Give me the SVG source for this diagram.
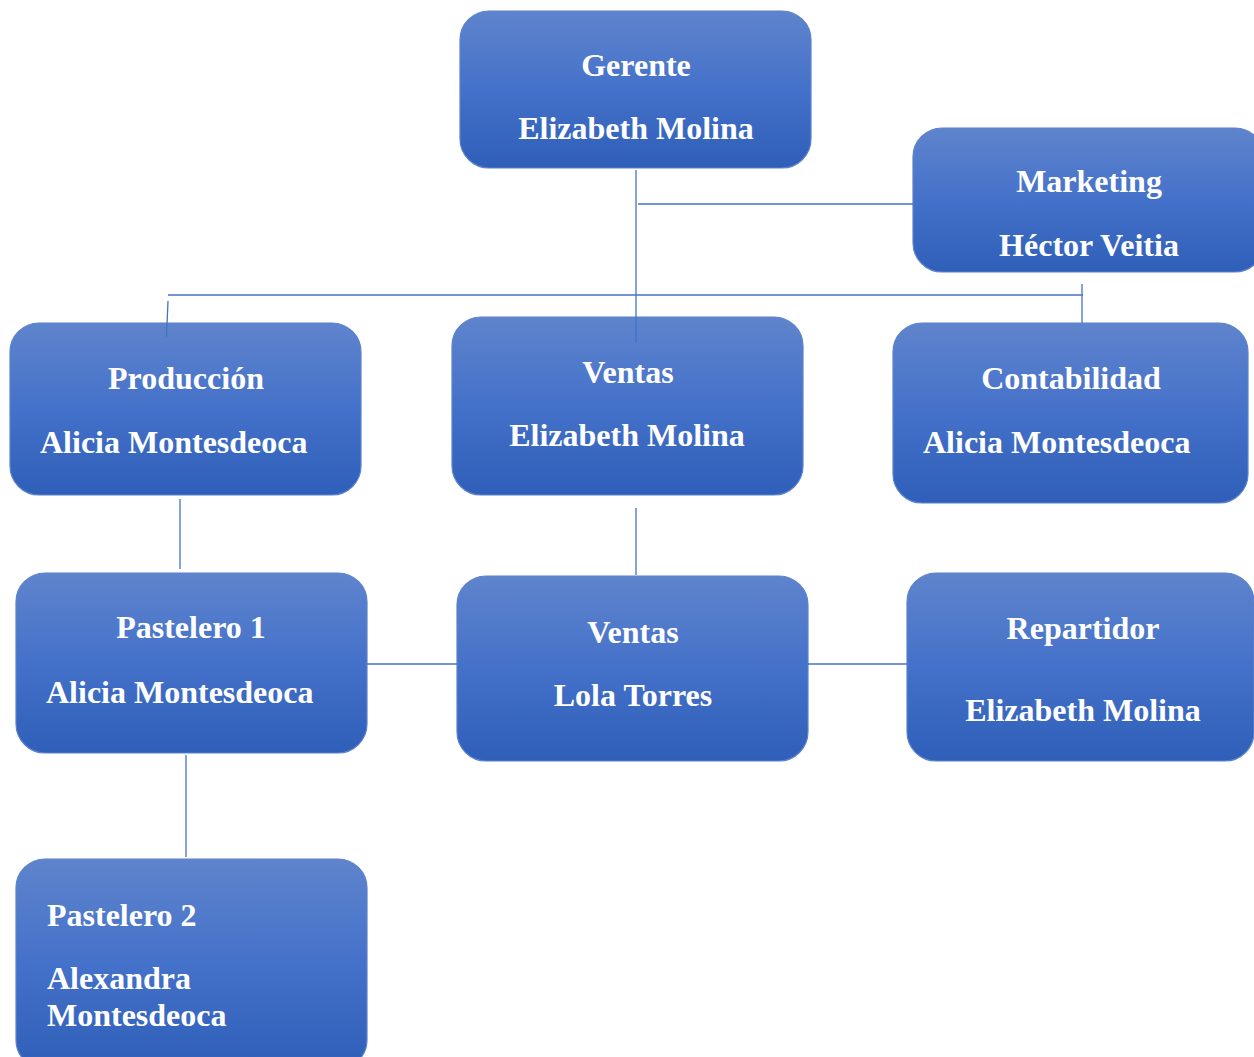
<svg xmlns="http://www.w3.org/2000/svg" width="1254" height="1057" viewBox="0 0 1254 1057">
<defs>
<linearGradient id="g" x1="0" y1="0" x2="0" y2="1">
<stop offset="0" stop-color="#5f84cd"/>
<stop offset="0.5" stop-color="#4471c9"/>
<stop offset="1" stop-color="#2f5fb9"/>
</linearGradient>
<style>
.box{fill:url(#g);stroke:#5b82cc;stroke-width:1.2}
.t{font-family:"Liberation Serif","Times New Roman",serif;font-weight:bold;font-size:32px;fill:#ffffff}
.c{text-anchor:middle}
.ln{stroke:#4472c4;stroke-width:1.3;fill:none}
</style>
</defs>
<rect width="1254" height="1057" fill="#ffffff"/>
<g id="gerente">
<rect class="box" x="460" y="11" width="351" height="157" rx="29"/>
<text class="t c" x="636" y="76">Gerente</text>
<text class="t c" x="636" y="139">Elizabeth Molina</text>
</g>
<g id="marketing">
<rect class="box" x="913" y="128" width="351" height="144" rx="29"/>
<text class="t c" x="1089" y="192">Marketing</text>
<text class="t c" x="1089" y="256">Héctor Veitia</text>
</g>
<g id="produccion">
<rect class="box" x="10" y="323" width="351" height="172" rx="29"/>
<text class="t c" x="186" y="389">Producción</text>
<text class="t" x="40" y="453">Alicia Montesdeoca</text>
</g>
<g id="ventas1">
<rect class="box" x="452" y="317" width="351" height="178" rx="29"/>
<text class="t c" x="628" y="383">Ventas</text>
<text class="t c" x="627" y="446">Elizabeth Molina</text>
</g>
<g id="contabilidad">
<rect class="box" x="893" y="323" width="355" height="180" rx="29"/>
<text class="t c" x="1071" y="389">Contabilidad</text>
<text class="t" x="923" y="453">Alicia Montesdeoca</text>
</g>
<g id="pastelero1">
<rect class="box" x="16" y="573" width="351" height="180" rx="29"/>
<text class="t c" x="191" y="638">Pastelero 1</text>
<text class="t" x="46" y="703">Alicia Montesdeoca</text>
</g>
<g id="ventas2">
<rect class="box" x="457" y="576" width="351" height="185" rx="29"/>
<text class="t c" x="633" y="643">Ventas</text>
<text class="t c" x="633" y="706">Lola Torres</text>
</g>
<g id="repartidor">
<rect class="box" x="907" y="573" width="347" height="188" rx="29"/>
<text class="t c" x="1083" y="639">Repartidor</text>
<text class="t c" x="1083" y="721">Elizabeth Molina</text>
</g>
<g id="pastelero2">
<rect class="box" x="16" y="859" width="351" height="210" rx="29"/>
<text class="t" x="47" y="926">Pastelero 2</text>
<text class="t" x="47" y="989">Alexandra</text>
<text class="t" x="47" y="1026">Montesdeoca</text>
</g>
<g id="connectors">
<line class="ln" x1="636" y1="170" x2="636" y2="343"/>
<line class="ln" x1="638" y1="204" x2="913" y2="204"/>
<line class="ln" x1="168" y1="295" x2="1083" y2="295"/>
<line class="ln" x1="1082" y1="284" x2="1082" y2="323"/>
<line class="ln" x1="168" y1="301" x2="166.5" y2="337"/>
<line class="ln" x1="180" y1="499" x2="180" y2="569"/>
<line class="ln" x1="636" y1="508" x2="636" y2="575"/>
<line class="ln" x1="367" y1="664" x2="457" y2="664"/>
<line class="ln" x1="808" y1="664" x2="907" y2="664"/>
<line class="ln" x1="186" y1="755" x2="186" y2="857"/>
</g>
</svg>
